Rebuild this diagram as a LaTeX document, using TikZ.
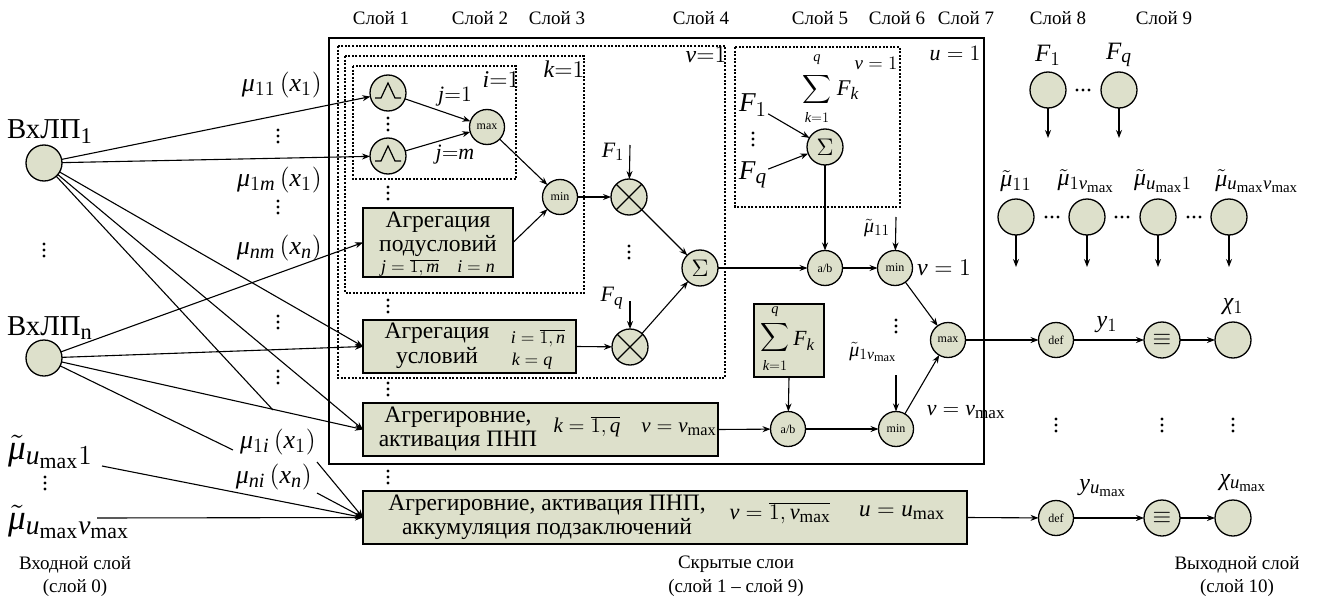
\RequirePackage{fix-cm}
\documentclass[tikz,border=0pt]{standalone}
\usepackage{graphicx}
\usepackage{fontspec}
\setmainfont{Liberation Serif}
\usetikzlibrary{arrows.meta}
\definecolor{nfill}{RGB}{221,224,203}
\newcommand{\fs}[1]{\fontsize{#1}{#1}\selectfont}
\newcommand{\Z}[2]{\scalebox{#1}{#2}}
\renewcommand{\defaultscriptratio}{.78}
\renewcommand{\defaultscriptscriptratio}{.62}

% italic math letters taken from the serif text face
\DeclareSymbolFont{tuit}{TU}{\rmdefault}{m}{it}
\def\tuitletters#1{\ifx#1\relax\else\Umathcode`#1="7 \symtuit `#1\relax\expandafter\tuitletters\fi}
\tuitletters abcdefghijklmnopqrstuvwxyzABCDEFGHIJKLMNOPQRSTUVWXYZ\relax
\Umathchardef\mu="0 \symtuit "03BC\relax
\Umathchardef\chi="0 \symtuit "03C7\relax

\tikzset{
  neuron/.style={circle, draw, fill=nfill, line width=1.3pt, minimum size=36pt, inner sep=0pt, outer sep=0pt},
  op/.style={neuron, minimum size=35pt, font=\fs{12}},
  blk/.style={draw, fill=nfill, line width=1.1pt, inner sep=0pt, outer sep=0pt},
  dotbox/.style={draw, line width=1.1pt, dash pattern=on 2pt off 1.6pt},
  conn/.style={-{Stealth[length=8pt,width=6pt]}, line width=1.1pt},
  wire/.style={line width=1.1pt},
  layer/.style={font=\fs{19}},
  t/.style={font=\fs{16}, inner sep=0pt},
  vd/.pic={\foreach \d in {-6,0,6} \fill (0,\d) circle (1.7);},
  hd/.pic={\foreach \d in {-6,0,6} \fill (\d,0) circle (1.7);},
}

\begin{document}
\begin{tikzpicture}[x=1pt,y=-1pt]
\useasboundingbox (0,0) rectangle (1321,599);

% layer captions
\foreach \x/\n in {381/1,480/2,557/3,701/4,820/5,897/6,966/7,1058/8,1164/9}
  \node[layer] at (\x,18) {Слой \n};

% frames
\draw[line width=1.4pt] (329,38) rectangle (984,464);
\draw[dotbox] (338,46) rectangle (725,378);
\draw[dotbox] (345,56) rectangle (584,293);
\draw[dotbox] (353,66) rectangle (516,179);
\draw[dotbox] (735,47) rectangle (900,207);
\node[t] at (955,54) {\Z{1.37}{$u=1$}};
\node[t] at (706,55) {\Z{1.5}{$v{=}1$}};
\node[t] at (564,69) {\Z{1.5}{$k{=}1$}};
\node[t] at (501,80) {\Z{1.5}{$i{=}1$}};
\node[t] at (876,63) {\Z{1.19}{$v=1$}};

% input layer
\node[neuron] (in1) at (44,163) {};
\node[neuron] (inn) at (44,358) {};
\node[t] at (50,132) {\Z{1.8}{ВхЛП\textsubscript{1}}};
\node[t] at (50,328) {\Z{1.8}{ВхЛП\textsubscript{n}}};
\pic at (44,250) {vd};
\node[t, anchor=west] (mt1) at (8,452) {\Z{2.2}{$\tilde\mu_{u_{\max}1}$}};
\pic at (45,483) {vd};
\node[t, anchor=west] (mt2) at (8,522) {\Z{2.2}{$\tilde\mu_{u_{\max}v_{\max}}$}};

% membership labels
\node[t, anchor=east] at (322,85) {\Z{1.62}{$\mu_{11}\left(x_1\right)$}};
\pic at (278,136) {vd};
\node[t, anchor=east] at (322,180) {\Z{1.62}{$\mu_{1m}\left(x_1\right)$}};
\pic at (278,207) {vd};
\node[t, anchor=east] at (322,248) {\Z{1.62}{$\mu_{nm}\left(x_n\right)$}};
\pic at (278,322) {vd};
\pic at (278,377) {vd};
\node[t, anchor=east] at (316,442) {\Z{1.62}{$\mu_{1i}\left(x_1\right)$}};
\node[t, anchor=east] at (312,477) {\Z{1.62}{$\mu_{ni}\left(x_n\right)$}};

% layer 1-3: fuzzification and subcondition aggregation
\node[neuron] (g1) at (388,93) {};
\node[neuron] (gm) at (388,156) {};
\foreach \g in {g1,gm}
  \draw[line width=1.2pt] ([shift={(-13,5)}]\g.center) -- ++(6,0) -- ++(7,-15) -- ++(7,15) -- ++(6,0);
\pic at (388,124) {vd};
\pic at (388,193) {vd};
\node[op] (mx) at (487,127) {max};
\node[t] at (455,97) {\Z{1.37}{$j{=}1$}};
\node[t] at (455,155) {\Z{1.37}{$j{=}m$}};
\node[op] (mn) at (560,197) {min};

\node[blk, minimum width=150pt, minimum height=69pt] (pod) at (438,242.5) {};
\node[t] at (438,222) {\Z{1.47}{Агрегация}};
\node[t] at (438,246) {\Z{1.47}{подусловий}};
\node[t] at (438,268) {\Z{1.12}{$j=\overline{1,m}\quad i=n$}};

\pic at (388,306) {vd};
\node[blk, minimum width=213pt, minimum height=53pt] (usl) at (469.5,346.5) {};
\node[t] at (437,333) {\Z{1.47}{Агрегация}};
\node[t] at (437,358) {\Z{1.47}{условий}};
\node[t] at (538,338) {\Z{1.12}{$i=\overline{1,n}$}};
\node[t] at (532,361) {\Z{1.12}{$k=q$}};

\pic at (388,389) {vd};
\node[blk, minimum width=355pt, minimum height=53pt] (agr) at (540.5,429.5) {};
\node[t] at (458,417) {\Z{1.47}{Агрегировние,}};
\node[t] at (458,441) {\Z{1.47}{активация ПНП}};
\node[t] at (635,427) {\Z{1.31}{$k=\overline{1,q}\quad v=v_{\max}$}};

\pic at (388,477) {vd};
\node[blk, minimum width=604pt, minimum height=53pt] (bot) at (665,517.5) {};
\node[t] at (547,505) {\Z{1.47}{Агрегировние, активация ПНП,}};
\node[t] at (547,529) {\Z{1.47}{аккумуляция подзаключений}};
\node[t] at (780,513) {\Z{1.4}{$v=\overline{1,v_{\max}}$}};
\node[t] at (902,513) {\Z{1.45}{$u=u_{\max}$}};

% layer 4: weighting and summation
\node[neuron] (ot1) at (629,197) {};
\node[neuron] (otq) at (630,347) {};
\foreach \o in {ot1,otq} {
  \draw[line width=1.2pt] (\o.north east) -- (\o.south west);
  \draw[line width=1.2pt] (\o.north west) -- (\o.south east);
}
\pic at (629,252) {vd};
\node[t] at (613,152) {\Z{1.37}{$F_1$}};
\coordinate (fa) at (630,145);
\node[t] at (612,298) {\Z{1.37}{$F_q$}};
\coordinate (fb) at (630,301);
\node[neuron, font=\fs{16}] (s4) at (700,268) {\Z{1.5}{$\Sigma$}};

% layer 5: normalisation
\node[neuron, font=\fs{16}] (s5) at (825,147) {\Z{1.5}{$\Sigma$}};
\node[font=\fs{10}, inner sep=0pt] (sg5) at (817,90) {\Z{2}{$\displaystyle\sum$}};
\node[t] at (817,60) {\Z{0.9}{$q$}};
\node[t] at (817,118) {\Z{0.9}{$k{=}1$}};
\node[t] at (848,90) {\Z{1.4}{$F_k$}};
\node[font=\fs{16}, inner sep=1pt] (f1l) at (753,105) {\Z{1.7}{$F_1$}};
\pic at (753,139) {vd};
\node[font=\fs{16}, inner sep=1pt] (fql) at (753,175) {\Z{1.7}{$F_q$}};
\node[blk, minimum width=70pt, minimum height=73pt] (sbox) at (789,340.5) {};
\node[font=\fs{10}, inner sep=0pt] (sgb) at (775,337) {\Z{2}{$\displaystyle\sum$}};
\node[t] at (775,312) {\Z{0.9}{$q$}};
\node[t] at (775,366) {\Z{0.9}{$k{=}1$}};
\node[t] at (804,341) {\Z{1.35}{$F_k$}};
\node[op] (ab1) at (825,268) {a/b};
\node[op] (ab2) at (788,429) {a/b};

% layer 6-7: activation and accumulation
\node[op] (mn1) at (895,268) {min};
\node[op] (mnv) at (896,429) {min};
\pic at (896,326) {vd};
\node[t] at (877,228) {\Z{1.25}{$\tilde\mu_{11}$}};
\coordinate (mua) at (896,217);
\node[t] at (873,352) {\Z{1.25}{$\tilde\mu_{1v_{\max}}$}};
\coordinate (mub) at (896,375);
\node[t] at (944,268) {\Z{1.5}{$v=1$}};
\node[t] at (966,412) {\Z{1.37}{$v=v_{\max}$}};
\node[op] (mx7) at (948,340) {max};

% layers 8-9: shared inputs
\node[neuron] (pf1) at (1048,90) {};
\node[neuron] (pfq) at (1119,90) {};
\node[t] at (1048,55) {\Z{1.56}{$F_1$}};
\node[t] at (1119,55) {\Z{1.56}{$F_q$}};
\pic at (1083,90) {hd};
\foreach \p in {pf1,pfq} \draw[conn] (\p.south) -- +(0,30);
\node[neuron] (pm1) at (1016,217) {};
\node[neuron] (pm2) at (1087,217) {};
\node[neuron] (pm3) at (1158,217) {};
\node[neuron] (pm4) at (1229,217) {};
\pic at (1052,217) {hd};
\pic at (1122,217) {hd};
\pic at (1194,217) {hd};
\foreach \p in {pm1,pm2,pm3,pm4} \draw[conn] (\p.south) -- +(0,32);
\node[t] at (1016,181) {\Z{1.5}{$\tilde\mu_{11}$}};
\node[t] at (1086,181) {\Z{1.5}{$\tilde\mu_{1v_{\max}}$}};
\node[t] at (1163,181) {\Z{1.5}{$\tilde\mu_{u_{\max}1}$}};
\node[t] at (1257,181) {\Z{1.5}{$\tilde\mu_{u_{\max}v_{\max}}$}};

% defuzzification and output layer
\node[op] (df1) at (1056,340) {def};
\node[op] (df2) at (1056,518) {def};
\node[neuron, font=\fs{16}] (eq1) at (1162,340) {\Z{1.5}{$\equiv$}};
\node[neuron, font=\fs{16}] (eq2) at (1162,518) {\Z{1.5}{$\equiv$}};
\node[neuron] (ch1) at (1233,340) {};
\node[neuron] (ch2) at (1233,518) {};
\node[t] at (1107,325) {\Z{1.5}{$y_1$}};
\node[t] at (1103,488) {\Z{1.5}{$y_{u_{\max}}$}};
\node[t] at (1233,307) {\Z{1.5}{$\chi_1$}};
\node[t] at (1243,483) {\Z{1.5}{$\chi_{u_{\max}}$}};
\pic at (1056,425) {vd};
\pic at (1162,425) {vd};
\pic at (1233,425) {vd};

% captions
\node[layer] at (75,565) {Входной слой};
\node[layer] at (75,588) {(слой 0)};
\node[layer] at (736,564) {Скрытые слои};
\node[layer] at (736,588) {(слой 1 – слой 9)};
\node[layer] at (1237,565) {Выходной слой};
\node[layer] at (1237,588) {(слой 10)};

% free line ends near the membership labels
\coordinate (e1) at (273,410);
\coordinate (e2) at (233,450);
\coordinate (c1) at (317,462);
\coordinate (c2) at (317,493);
\coordinate (c3) at (102,466);
\coordinate (c4) at (97,518);

% connectors from the input layer
\draw[conn] (in1) -- (g1);
\draw[conn] (in1) -- (gm);
\draw[conn] (in1) -- (usl.west);
\draw[conn] (in1) -- (agr.west);
\draw[wire] (in1) -- (e1);
\draw[conn] (inn) -- (pod.west);
\draw[conn] (inn) -- (usl.west);
\draw[conn] (inn) -- (agr.west);
\draw[wire] (inn) -- (e2);
\draw[conn] (c1) -- (bot.west);
\draw[conn] (c2) -- (bot.west);
\draw[conn] (c3) -- (bot.west);
\draw[conn] (c4) -- (bot.west);

% hidden connectors
\draw[conn] (g1) -- (mx);
\draw[conn] (gm) -- (mx);
\draw[conn] (mx) -- (mn);
\draw[conn] (pod.east) -- (mn);
\draw[conn] (mn) -- (ot1);
\draw[conn] (usl.east) -- (otq);
\draw[conn] (fa) -- (ot1);
\draw[conn] (fb) -- (otq);
\draw[conn] (ot1) -- (s4);
\draw[conn] (otq) -- (s4);
\draw[conn] (f1l) -- (s5);
\draw[conn] (fql) -- (s5);
\draw[conn] (s5) -- (ab1);
\draw[conn] (s4) -- (ab1);
\draw[conn] (ab1) -- (mn1);
\draw[conn] (mua) -- (mn1);
\draw[conn] (agr.east) -- (ab2);
\draw[conn] (sbox.south) -- (ab2);
\draw[conn] (ab2) -- (mnv);
\draw[conn] (mub) -- (mnv);
\draw[conn] (mn1) -- (mx7);
\draw[conn] (mnv) -- (mx7);
\draw[conn] (mx7) -- (df1);
\draw[conn] (df1) -- (eq1);
\draw[conn] (eq1) -- (ch1);
\draw[conn] (bot.east) -- (df2);
\draw[conn] (df2) -- (eq2);
\draw[conn] (eq2) -- (ch2);
\end{tikzpicture}
\end{document}
